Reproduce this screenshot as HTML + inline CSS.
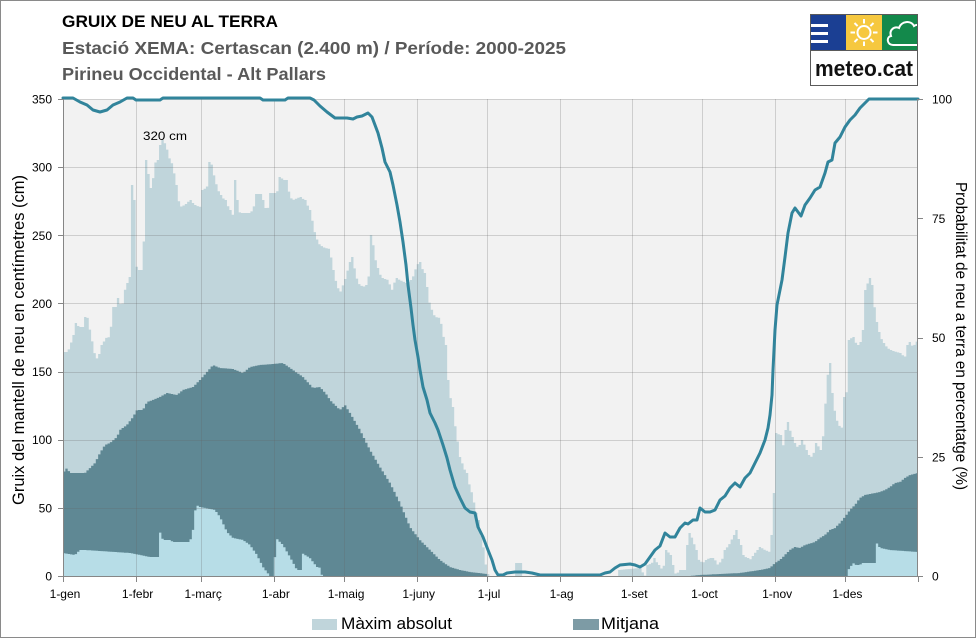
<!DOCTYPE html>
<html><head><meta charset="utf-8">
<style>
html,body{margin:0;padding:0;background:#fff;}
svg{display:block;}
text{font-family:"Liberation Sans",Arial,sans-serif;}
</style></head><body>
<svg id="s" width="976" height="638" viewBox="0 0 976 638" xmlns="http://www.w3.org/2000/svg">
<rect x="0.5" y="0.5" width="975" height="637" fill="#fff" stroke="#8a8a8a"/>

<!-- Header -->
<text x="62" y="27" font-size="17" font-weight="bold" fill="#000" textLength="216" lengthAdjust="spacingAndGlyphs">GRUIX DE NEU AL TERRA</text>
<text x="62" y="54" font-size="17.5" font-weight="bold" fill="#595959" textLength="504" lengthAdjust="spacingAndGlyphs">Estació XEMA: Certascan (2.400 m) /  Període: 2000-2025</text>
<text x="62" y="80" font-size="17.5" font-weight="bold" fill="#595959" textLength="264" lengthAdjust="spacingAndGlyphs">Pirineu Occidental - Alt Pallars</text>

<!-- Logo -->
<defs><clipPath id="gc"><rect x="882" y="15" width="35" height="35"/></clipPath></defs>
<rect x="810.5" y="14.5" width="107" height="71" fill="#fff" stroke="#5a5a5a"/>
<rect x="811" y="15" width="35" height="35" fill="#1b3f93"/>
<rect x="846" y="15" width="36" height="35" fill="#f6c83f"/>
<rect x="882" y="15" width="35" height="35" fill="#13894b"/>
<line x1="810" y1="50.5" x2="918" y2="50.5" stroke="#5a5a5a"/>
<rect x="811" y="24" width="17" height="3" fill="#fff"/>
<rect x="811" y="32" width="17" height="3" fill="#fff"/>
<rect x="811" y="40" width="17" height="3" fill="#fff"/>
<g stroke="#fff" stroke-width="2" fill="none">
<circle cx="864" cy="32.5" r="6.5"/>
<line x1="873" y1="32.5" x2="877.5" y2="32.5"/>
<line x1="870.4" y1="38.9" x2="873.5" y2="42"/>
<line x1="864" y1="41.5" x2="864" y2="46"/>
<line x1="857.6" y1="38.9" x2="854.5" y2="42"/>
<line x1="855" y1="32.5" x2="850.5" y2="32.5"/>
<line x1="857.6" y1="26.1" x2="854.5" y2="23"/>
<line x1="864" y1="23.5" x2="864" y2="19"/>
<line x1="870.4" y1="26.1" x2="873.5" y2="23"/>
<path clip-path="url(#gc)" d="M919,45 L893,45 C887,45 886,37 891,36 C889,30 894,26 899,28 C901,21 911,20 914,26 C917,24 920,25 921,27"/>
</g>
<text x="815" y="76" font-size="22" font-weight="bold" fill="#111" textLength="98" lengthAdjust="spacingAndGlyphs">meteo.cat</text>

<!-- Plot area -->
<rect x="63" y="99" width="855" height="477" fill="#f2f2f2"/>
<path id="pmax" fill="#c0d5db" d=""/>
<path id="pmean" fill="#5f8894" d=""/>
<path id="pmin" fill="#b7dde7" d=""/>
<g id="grid" stroke="rgba(100,100,100,0.25)" stroke-width="1"></g>
<polyline id="pline" fill="none" stroke="#31849b" stroke-width="3" stroke-linejoin="round" stroke-linecap="round" points=""/>

<!-- axes -->
<g stroke="#868686" stroke-width="1" fill="none">
<line x1="63.5" y1="99" x2="63.5" y2="577"/>
<line x1="917.5" y1="99" x2="917.5" y2="577"/>
<line x1="63" y1="576.5" x2="918" y2="576.5"/>
</g>
<g id="ticks" stroke="#868686" stroke-width="1"></g>
<g id="labels" font-size="12" fill="#000"></g>

<text x="143" y="140" font-size="12" fill="#000" textLength="44" lengthAdjust="spacingAndGlyphs">320 cm</text>

<!-- Axis titles -->
<text transform="translate(24,340) rotate(-90)" text-anchor="middle" font-size="17" fill="#000" textLength="330" lengthAdjust="spacingAndGlyphs">Gruix del mantell de neu en centímetres (cm)</text>
<text transform="translate(956,336) rotate(90)" text-anchor="middle" font-size="16" fill="#000" textLength="308" lengthAdjust="spacingAndGlyphs">Probabilitat de neu a terra en percentatge (%)</text>

<!-- Legend -->
<rect x="312" y="619" width="25" height="11" fill="#c0d5db"/>
<text x="341" y="629" font-size="17" fill="#000" textLength="111" lengthAdjust="spacingAndGlyphs">Màxim absolut</text>
<rect x="573" y="619" width="26" height="11" fill="#7d9ba5"/>
<text x="601" y="629" font-size="17" fill="#000" textLength="58" lengthAdjust="spacingAndGlyphs">Mitjana</text>
</svg>
<script>
(function(){
var NS="http://www.w3.org/2000/svg";
var K=855/365;
function interp(p,x){if(x<=p[0][0])return p[0][1];for(var i=1;i<p.length;i++){if(x<=p[i][0]){var a=p[i-1],b=p[i];if(b[0]==a[0])return b[1];return a[1]+(b[1]-a[1])*(x-a[0])/(b[0]-a[0]);}}return p[p.length-1][1];}
function area(p,peak){var s='M63,576';for(var d=0;d<365;d++){var x0=63+d*K,x1=63+(d+1)*K;var y=interp(p,x0+K/2);
 if(peak){for(var i=0;i<p.length;i++){if(p[i][0]>=x0&&p[i][0]<x1&&p[i][1]<y)y=p[i][1];}}
 s+='L'+x0.toFixed(2)+','+y.toFixed(1)+'L'+x1.toFixed(2)+','+y.toFixed(1);}return s+'L918,576Z';}

var MAX=[[63,352],[68,352],[71,343],[74,335],[76,323],[79,327],[83,327],[85,317],[88,318],[90,330],[93,345],[96,360],[99,355],[102,345],[106,338],[110,337],[113,307],[117,307],[118,298],[122,308],[125,290],[128,283],[130,277],[132,250],[133,185],[134,200],[135,240],[137,270],[143,270],[145,200],[147,160],[150,188],[152,188],[155,163],[158,160],[161,145],[163,140],[166,145],[170,160],[173,165],[176,185],[180,207],[185,205],[190,200],[195,205],[200,207],[203,190],[207,187],[210,162],[212,165],[215,180],[220,195],[225,200],[230,210],[233,215],[235,180],[237,200],[240,213],[250,213],[253,210],[257,194],[262,194],[265,208],[267,215],[270,193],[277,193],[280,177],[284,180],[287,180],[290,197],[293,200],[300,197],[305,200],[310,210],[313,223],[315,233],[318,242],[320,245],[325,248],[330,249],[333,270],[337,285],[340,293],[345,280],[350,262],[352,257],[355,270],[358,283],[363,287],[367,285],[370,270],[372,235],[374,250],[377,268],[382,278],[388,280],[392,290],[396,278],[406,283],[412,280],[417,265],[420,262],[424,273],[427,287],[430,305],[435,317],[440,318],[442,327],[445,345],[448,380],[452,407],[456,430],[460,457],[466,473],[472,493],[478,520],[484,550],[487,574],[488,576],
[516,576],[517,563],[520,563],[521,576],[618,576],[619,570],[640,568],[645,576],[648,565],[652,563],[655,558],[658,565],[663,570],[667,550],[670,555],[673,565],[676,575],[680,570],[686,570],[688,545],[690,533],[693,540],[696,550],[699,560],[703,563],[706,560],[710,558],[714,558],[718,565],[722,560],[725,550],[729,545],[733,537],[737,530],[740,545],[743,555],[747,558],[750,560],[755,553],[760,547],[765,550],[770,552],[773,520],[774,493],[776,433],[780,435],[783,447],[786,430],[788,422],[792,437],[797,447],[800,445],[803,440],[806,450],[808,455],[812,457],[815,450],[817,443],[820,450],[822,452],[825,410],[827,383],[829,363],[832,393],[836,418],[840,427],[843,428],[845,397],[848,388],[849,340],[853,337],[857,345],[860,345],[863,330],[866,290],[869,278],[872,285],[875,310],[878,328],[883,343],[890,350],[900,353],[905,357],[908,345],[910,342],[913,347],[918,340]];

var MEAN=[[63,473],[67,468],[70,473],[85,473],[90,468],[95,463],[100,453],[105,445],[110,443],[117,437],[120,430],[127,425],[133,417],[137,410],[143,410],[147,402],[153,400],[160,397],[167,393],[177,395],[183,390],[193,387],[200,380],[207,372],[213,365],[220,368],[233,369],[243,373],[250,367],[260,365],[273,364],[283,363],[293,370],[303,377],[313,388],[320,387],[327,395],[330,400],[340,410],[345,405],[350,413],[360,430],[370,450],[380,467],[390,483],[400,503],[410,527],[420,540],[430,550],[440,560],[450,567],[460,570],[470,572],[487,574],[488,576],[690,576],[700,575],[740,573],[760,570],[770,568],[775,563],[780,560],[785,555],[790,550],[795,547],[800,548],[805,545],[815,542],[820,538],[825,535],[830,530],[835,528],[840,523],[845,517],[850,510],[855,505],[860,498],[865,495],[875,493],[880,492],[885,490],[890,487],[895,483],[900,482],[905,478],[910,475],[918,473]];

var MIN=[[63,553],[75,555],[80,550],[85,550],[100,551],[130,553],[150,557],[158,557],[160,532],[163,540],[170,540],[173,542],[190,542],[193,530],[196,505],[200,507],[215,510],[220,517],[227,532],[233,538],[243,540],[250,545],[257,555],[263,567],[270,576],[274,576],[276,538],[283,545],[290,557],[297,570],[301,570],[302,553],[310,558],[317,567],[321,568],[322,576],[847,576],[848,570],[850,568],[853,563],[856,565],[860,565],[862,563],[875,563],[876,542],[880,548],[890,550],[918,552]];

var LINE=[[63,98],[73,98],[80,102],[87,105],[93,110],[100,112],[107,110],[113,105],[120,102],[127,98],[133,98],[136,100],[160,100],[163,98],[260,98],[263,100],[285,100],[288,98],[310,98],[314,100],[320,106],[327,112],[335,118],[347,118],[353,119],[357,117],[362,116],[368,113],[372,117],[378,133],[382,148],[385,162],[390,172],[393,185],[397,205],[400,222],[403,242],[406,265],[408,285],[411,308],[413,325],[415,340],[418,357],[420,370],[423,387],[427,400],[430,413],[435,423],[438,430],[443,445],[447,458],[450,470],[455,487],[460,498],[465,508],[470,512],[475,513],[478,527],[483,537],[488,550],[492,560],[495,570],[498,575],[503,575],[507,573],[515,572],[525,572],[532,573],[540,575],[600,575],[605,573],[610,572],[615,568],[620,565],[630,564],[635,565],[640,567],[645,564],[650,557],[655,550],[660,546],[665,533],[670,537],[675,537],[680,528],[685,523],[688,524],[693,520],[697,520],[700,508],[705,512],[710,512],[715,510],[720,500],[725,496],[730,488],[735,483],[740,487],[745,478],[750,473],[755,463],[760,453],[765,440],[768,428],[770,415],[772,395],[773,370],[775,330],[777,305],[780,290],[782,280],[785,257],[788,233],[792,213],[795,208],[798,212],[801,216],[805,205],[810,198],[815,190],[820,187],[825,173],[828,162],[832,160],[835,143],[840,137],[845,127],[850,120],[855,115],[860,108],[865,103],[869,99],[918,99]];

document.getElementById('pmax').setAttribute('d',area(MAX,true));
document.getElementById('pmean').setAttribute('d',area(MEAN,false));
document.getElementById('pmin').setAttribute('d',area(MIN,false));
document.getElementById('pline').setAttribute('points',LINE.map(function(p){return p[0]+','+p[1];}).join(' '));

var months=[0,31,59,90,120,151,181,212,243,273,304,334,365];
var names=['1-gen','1-febr','1-març','1-abr','1-maig','1-juny','1-jul','1-ag','1-set','1-oct','1-nov','1-des'];
var grid=document.getElementById('grid'),ticks=document.getElementById('ticks'),labels=document.getElementById('labels');
function ln(g,x1,y1,x2,y2){var l=document.createElementNS(NS,'line');l.setAttribute('x1',x1);l.setAttribute('y1',y1);l.setAttribute('x2',x2);l.setAttribute('y2',y2);g.appendChild(l);}
function tx(x,y,s,anchor){var t=document.createElementNS(NS,'text');t.setAttribute('x',x);t.setAttribute('y',y);if(anchor)t.setAttribute('text-anchor',anchor);t.textContent=s;labels.appendChild(t);}
for(var i=0;i<months.length;i++){var x=Math.round(63+months[i]*K)+0.5;
 if(i>0&&i<12)ln(grid,x,99,x,576);
 ln(ticks,x,577,x,582);
 if(i<12)tx(63+months[i]*K+2,598,names[i],'middle');}
for(var k=0;k<=7;k++){var y=576-k*477/7;var yy=Math.round(y)+0.5;
 if(k>0)ln(grid,63,yy,918,yy);
 ln(ticks,58,yy,63,yy);
 tx(52,y+4.5,String(k*50),'end');}
for(var k=0;k<=4;k++){var y=576-k*477/4;var yy=Math.round(y)+0.5;
 ln(ticks,918,yy,923,yy);
 tx(932,y+4.5,String(k*25));}
})();
</script>
</body></html>
